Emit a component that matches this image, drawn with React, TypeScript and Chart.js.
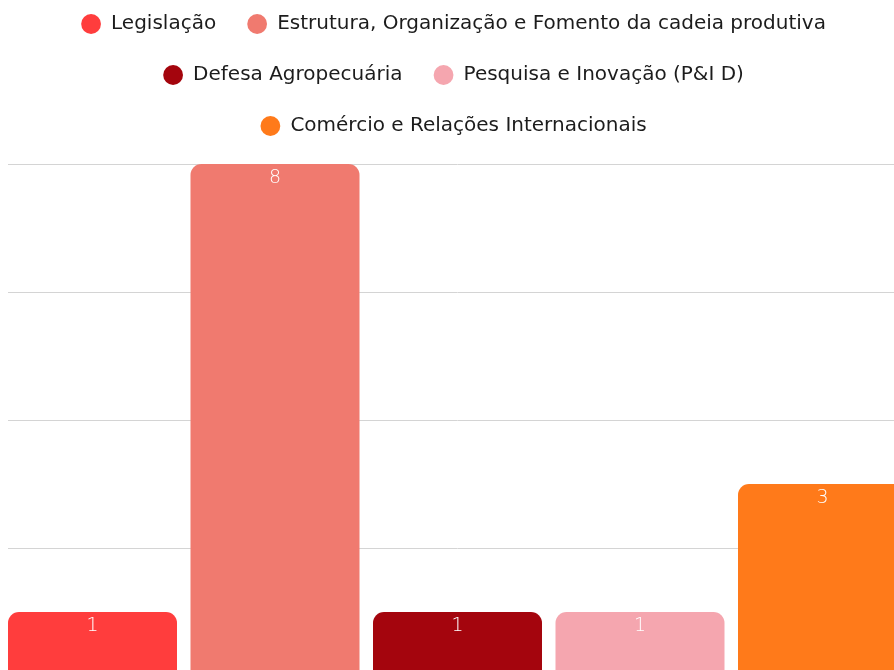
import React, { useEffect, useRef } from 'react';
import { Chart, registerables } from 'chart.js';

Chart.register(...registerables);

const categories = [''];
const seriesNames = [
  'Legislação',
  'Estrutura, Organização e Fomento da cadeia produtiva',
  'Defesa Agropecuária',
  'Pesquisa e Inovação (P&I D)',
  'Comércio e Relações Internacionais',
];
const seriesValues = [1, 8, 1, 1, 3];
const seriesColors = ['#FF3D3D', '#F07A6F', '#A4050D', '#F5A6AF', '#FF7A1A'];
const yMin = 0;
const yMax = 8;
const yStep = 2;

const FONT = "'DejaVu Sans', sans-serif";

const valueLabels = {
  id: 'valueLabels',
  afterDatasetsDraw(chart: any) {
    const ctx = chart.ctx;
    ctx.save();
    ctx.fillStyle = '#ffffff';
    ctx.font = `300 19px ${FONT}`;
    ctx.textAlign = 'center';
    ctx.textBaseline = 'middle';
    chart.data.datasets.forEach((ds: any, i: number) => {
      const meta = chart.getDatasetMeta(i);
      meta.data.forEach((el: any, j: number) => {
        const v = ds.data[j];
        if (v == null) return;
        ctx.fillText(String(v), el.x, el.y + 14);
      });
    });
    ctx.restore();
  },
};

const legendSpacer = {
  id: 'legendSpacer',
  beforeUpdate(chart: any) {
    const lg = chart.legend;
    if (lg && !lg._spaced) {
      const orig = lg.fit;
      lg.fit = function () {
        orig.call(this);
        this.height += 18;
      };
      lg._spaced = true;
    }
  },
  afterLayout(chart: any) {
    const lg = chart.legend;
    if (lg) {
      lg.left -= 4;
      lg.right -= 4;
    }
  },
};

export default function App() {
  const ref = useRef<HTMLCanvasElement | null>(null);

  useEffect(() => {
    if (!ref.current) return;
    const chart = new Chart(ref.current, {
      type: 'bar',
      data: {
        labels: categories,
        datasets: seriesNames.map((name, i) => ({
          label: name,
          data: [seriesValues[i]],
          backgroundColor: seriesColors[i],
          borderWidth: 0,
          borderRadius: 11,
          borderSkipped: 'start',
          categoryPercentage: 912.5 / 899,
          barPercentage: 169 / 182.5,
        })),
      },
      options: {
        responsive: false,
        animation: false,
        layout: { padding: 0 },
        plugins: {
          legend: {
            position: 'top',
            labels: {
              usePointStyle: true,
              pointStyle: 'circle',
              boxWidth: 20,
              boxHeight: 14,
              padding: 31,
              color: '#1c1c1c',
              font: { family: FONT, size: 20 },
            },
          },
          tooltip: { enabled: false },
        },
        scales: {
          x: { display: false },
          y: {
            min: yMin,
            max: yMax,
            ticks: { display: false, stepSize: yStep },
            grid: { color: '#d4d4d4', drawTicks: false, lineWidth: 1 },
            border: { display: false },
          },
        },
      },
      plugins: [valueLabels, legendSpacer],
    });
    return () => chart.destroy();
  }, []);

  return (
    <div style={{ position: 'fixed', left: 0, top: 0, width: 894, height: 670, overflow: 'hidden', background: '#fff' }}>
      <canvas
        ref={ref}
        width={899}
        height={693}
        style={{ position: 'absolute', left: 8, top: -17, width: 899, height: 693 }}
      />
    </div>
  );
}
